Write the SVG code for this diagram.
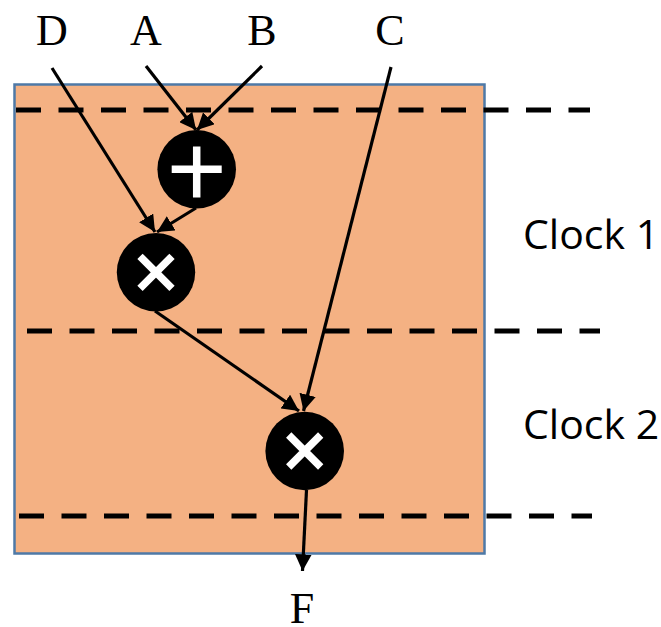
<svg xmlns="http://www.w3.org/2000/svg" width="661" height="627" viewBox="0 0 661 627">
<style>
.lbl{font-family:"Liberation Serif","Times New Roman",serif;font-size:44px;fill:#000;text-anchor:middle}
.clk{font-family:"Open Sans","Liberation Sans",sans-serif;font-size:41px;fill:#000}
.dash{stroke:#000;stroke-width:5;stroke-dasharray:25 17.5;fill:none}
.edge{stroke:#000;stroke-width:3.2;fill:none;marker-end:url(#ah)}
.op{fill:#000}
.sym{stroke:#fff;stroke-width:7.5;fill:none}
</style>
<defs>
<marker id="ah" viewBox="0 0 10 10" refX="10" refY="5" markerWidth="5.2" markerHeight="5.2" orient="auto" markerUnits="strokeWidth">
<path d="M0,0 L10,5 L0,10 z" fill="#000"/>
</marker>
</defs>
<rect width="661" height="627" fill="#fff"/>
<g id="box">
<rect x="14.5" y="84.5" width="470" height="469" fill="#f4b183" stroke="#4e79a7" stroke-width="2.5"/>
</g>
<g id="clock-lines">
<line class="dash" x1="16" y1="110" x2="590" y2="110"/>
<line class="dash" x1="27" y1="331" x2="600" y2="331"/>
<line class="dash" x1="19" y1="516" x2="592" y2="516"/>
</g>
<g id="labels">
<text class="lbl" x="52" y="45">D</text>
<text class="lbl" x="146" y="45">A</text>
<text class="lbl" x="262" y="45">B</text>
<text class="lbl" x="390" y="45">C</text>
<text class="lbl" x="302" y="623">F</text>
<text class="clk" x="523" y="249">Clock 1</text>
<text class="clk" x="523" y="439">Clock 2</text>
</g>
<g id="connectors">
<line class="edge" x1="146" y1="66" x2="196" y2="130"/>
<line class="edge" x1="262" y1="66" x2="197" y2="130"/>
<line class="edge" x1="52" y1="68" x2="155" y2="232"/>
<line class="edge" x1="196" y1="208" x2="157" y2="232"/>
<line class="edge" x1="391" y1="67" x2="303.5" y2="411"/>
<line class="edge" x1="155" y1="311" x2="299" y2="411"/>
<line class="edge" x1="306.5" y1="490" x2="302.5" y2="571"/>
</g>
<g id="add">
<circle class="op" cx="196.7" cy="169.3" r="39.3"/>
<path class="sym" d="M171.7,169.3 H221.7 M196.7,146.5 V197.5" stroke-width="9"/>
</g>
<g id="mul1">
<circle class="op" cx="156" cy="272.3" r="39.2"/>
<path class="sym" d="M140,256.3 L172,288.3 M172,256.3 L140,288.3"/>
</g>
<g id="mul2">
<circle class="op" cx="304.7" cy="451" r="39.3"/>
<path class="sym" d="M288.7,435 L320.7,467 M320.7,435 L288.7,467"/>
</g>
</svg>
